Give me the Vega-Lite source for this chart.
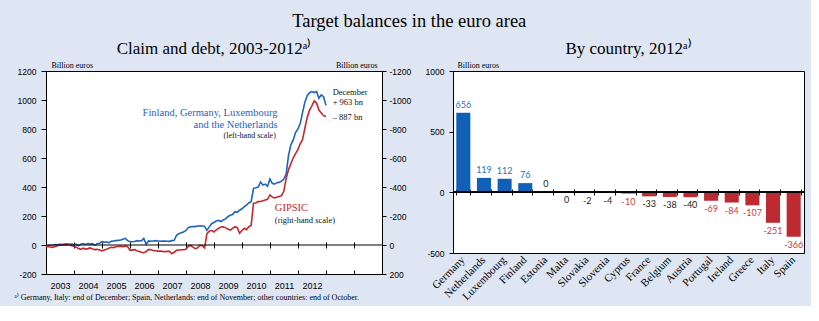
{
  "$schema": "https://vega.github.io/schema/vega-lite/v6.json",
  "background": "#dfe6f3",
  "padding": {"left": 13, "top": 12, "right": 6, "bottom": 3},
  "bounds": "flush",
  "spacing": 71,
  "title": {"text": "Target balances in the euro area", "font": "Liberation Serif", "fontSize": 18.5, "fontWeight": "normal", "color": "#000", "anchor": "middle", "offset": 9},
  "config": {
    "view": {"stroke": "#000", "strokeWidth": 1, "fill": "#ffffff"},
    "axis": {"labelFont": "Liberation Sans", "labelFontSize": 8.5, "labelColor": "#000", "tickColor": "#000", "domainColor": "#000", "titleFont": "Liberation Serif", "titleFontSize": 8, "titleFontWeight": "normal", "titleColor": "#000", "grid": false},
    "title": {"font": "Liberation Serif", "fontWeight": "normal", "color": "#000"}
  },
  "datasets": {
    "core": [
      {"date": "2002-12-31", "value": -5},
      {"date": "2003-01-31", "value": -4}, {"date": "2003-02-28", "value": -2}, {"date": "2003-03-31", "value": 0}, {"date": "2003-04-30", "value": 3}, {"date": "2003-05-31", "value": 2}, {"date": "2003-06-30", "value": 5}, {"date": "2003-07-31", "value": 4}, {"date": "2003-08-31", "value": 6}, {"date": "2003-09-30", "value": 8}, {"date": "2003-10-31", "value": 5}, {"date": "2003-11-30", "value": 6}, {"date": "2003-12-31", "value": 3},
      {"date": "2004-01-31", "value": 5}, {"date": "2004-02-28", "value": -5}, {"date": "2004-03-31", "value": 6}, {"date": "2004-04-30", "value": 10}, {"date": "2004-05-31", "value": 4}, {"date": "2004-06-30", "value": 10}, {"date": "2004-07-31", "value": 6}, {"date": "2004-08-31", "value": 9}, {"date": "2004-09-30", "value": -2}, {"date": "2004-10-31", "value": 10}, {"date": "2004-11-30", "value": 12}, {"date": "2004-12-31", "value": 23},
      {"date": "2005-01-31", "value": 18}, {"date": "2005-02-28", "value": 22}, {"date": "2005-03-31", "value": 15}, {"date": "2005-04-30", "value": 25}, {"date": "2005-05-31", "value": 28}, {"date": "2005-06-30", "value": 30}, {"date": "2005-07-31", "value": 32}, {"date": "2005-08-31", "value": 34}, {"date": "2005-09-30", "value": 40}, {"date": "2005-10-31", "value": 46}, {"date": "2005-11-30", "value": 30}, {"date": "2005-12-31", "value": 23},
      {"date": "2006-01-31", "value": 22}, {"date": "2006-02-28", "value": 24}, {"date": "2006-03-31", "value": 30}, {"date": "2006-04-30", "value": 28}, {"date": "2006-05-31", "value": 30}, {"date": "2006-06-30", "value": 46}, {"date": "2006-07-31", "value": 5}, {"date": "2006-08-31", "value": 28}, {"date": "2006-09-30", "value": 26}, {"date": "2006-10-31", "value": 28}, {"date": "2006-11-30", "value": 30}, {"date": "2006-12-31", "value": 28},
      {"date": "2007-01-31", "value": 26}, {"date": "2007-02-28", "value": 28}, {"date": "2007-03-31", "value": 27}, {"date": "2007-04-30", "value": 26}, {"date": "2007-05-31", "value": 25}, {"date": "2007-06-30", "value": 30}, {"date": "2007-07-31", "value": 32}, {"date": "2007-08-31", "value": 67}, {"date": "2007-09-30", "value": 78}, {"date": "2007-10-31", "value": 85}, {"date": "2007-11-30", "value": 90}, {"date": "2007-12-31", "value": 100},
      {"date": "2008-01-31", "value": 120}, {"date": "2008-02-28", "value": 125}, {"date": "2008-03-31", "value": 128}, {"date": "2008-04-30", "value": 127}, {"date": "2008-05-31", "value": 131}, {"date": "2008-06-30", "value": 133}, {"date": "2008-07-31", "value": 131}, {"date": "2008-08-31", "value": 128}, {"date": "2008-09-30", "value": 101}, {"date": "2008-10-31", "value": 125}, {"date": "2008-11-30", "value": 147}, {"date": "2008-12-31", "value": 155},
      {"date": "2009-01-31", "value": 165}, {"date": "2009-02-28", "value": 170}, {"date": "2009-03-31", "value": 162}, {"date": "2009-04-30", "value": 172}, {"date": "2009-05-31", "value": 180}, {"date": "2009-06-30", "value": 195}, {"date": "2009-07-31", "value": 205}, {"date": "2009-08-31", "value": 210}, {"date": "2009-09-30", "value": 230}, {"date": "2009-10-31", "value": 225}, {"date": "2009-11-30", "value": 240}, {"date": "2009-12-31", "value": 250},
      {"date": "2010-01-31", "value": 264}, {"date": "2010-02-28", "value": 275}, {"date": "2010-03-31", "value": 290}, {"date": "2010-04-30", "value": 299}, {"date": "2010-05-31", "value": 391}, {"date": "2010-06-30", "value": 395}, {"date": "2010-07-31", "value": 400}, {"date": "2010-08-31", "value": 435}, {"date": "2010-09-30", "value": 414}, {"date": "2010-10-31", "value": 420}, {"date": "2010-11-30", "value": 405}, {"date": "2010-12-31", "value": 455},
      {"date": "2011-01-31", "value": 425}, {"date": "2011-02-28", "value": 420}, {"date": "2011-03-31", "value": 430}, {"date": "2011-04-30", "value": 432}, {"date": "2011-05-31", "value": 440}, {"date": "2011-06-30", "value": 455}, {"date": "2011-07-31", "value": 490}, {"date": "2011-08-31", "value": 620}, {"date": "2011-09-30", "value": 690}, {"date": "2011-10-31", "value": 725}, {"date": "2011-11-30", "value": 775}, {"date": "2011-12-31", "value": 800},
      {"date": "2012-01-31", "value": 840}, {"date": "2012-02-28", "value": 909}, {"date": "2012-03-31", "value": 985}, {"date": "2012-04-30", "value": 1030}, {"date": "2012-05-31", "value": 1050}, {"date": "2012-06-30", "value": 1058}, {"date": "2012-07-31", "value": 1051}, {"date": "2012-08-31", "value": 1058}, {"date": "2012-09-30", "value": 1012}, {"date": "2012-10-31", "value": 1035}, {"date": "2012-11-30", "value": 1023}, {"date": "2012-12-31", "value": 963}
    ],
    "gipsic": [
      {"date": "2002-12-31", "value": 10},
      {"date": "2003-01-31", "value": 12}, {"date": "2003-02-28", "value": 14}, {"date": "2003-03-31", "value": 16}, {"date": "2003-04-30", "value": 10}, {"date": "2003-05-31", "value": 5}, {"date": "2003-06-30", "value": 0}, {"date": "2003-07-31", "value": 2}, {"date": "2003-08-31", "value": -2}, {"date": "2003-09-30", "value": 0}, {"date": "2003-10-31", "value": -3}, {"date": "2003-11-30", "value": 5}, {"date": "2003-12-31", "value": 8},
      {"date": "2004-01-31", "value": 15}, {"date": "2004-02-28", "value": 25}, {"date": "2004-03-31", "value": 30}, {"date": "2004-04-30", "value": 22}, {"date": "2004-05-31", "value": 28}, {"date": "2004-06-30", "value": 25}, {"date": "2004-07-31", "value": 20}, {"date": "2004-08-31", "value": 28}, {"date": "2004-09-30", "value": 32}, {"date": "2004-10-31", "value": 30}, {"date": "2004-11-30", "value": 35}, {"date": "2004-12-31", "value": 40},
      {"date": "2005-01-31", "value": 35}, {"date": "2005-02-28", "value": 30}, {"date": "2005-03-31", "value": 22}, {"date": "2005-04-30", "value": 16}, {"date": "2005-05-31", "value": 18}, {"date": "2005-06-30", "value": 12}, {"date": "2005-07-31", "value": 10}, {"date": "2005-08-31", "value": 8}, {"date": "2005-09-30", "value": 12}, {"date": "2005-10-31", "value": 7}, {"date": "2005-11-30", "value": 10}, {"date": "2005-12-31", "value": 35},
      {"date": "2006-01-31", "value": 35}, {"date": "2006-02-28", "value": 32}, {"date": "2006-03-31", "value": 40}, {"date": "2006-04-30", "value": 45}, {"date": "2006-05-31", "value": 50}, {"date": "2006-06-30", "value": 53}, {"date": "2006-07-31", "value": 45}, {"date": "2006-08-31", "value": 30}, {"date": "2006-09-30", "value": 33}, {"date": "2006-10-31", "value": 38}, {"date": "2006-11-30", "value": 40}, {"date": "2006-12-31", "value": 42},
      {"date": "2007-01-31", "value": 42}, {"date": "2007-02-28", "value": 44}, {"date": "2007-03-31", "value": 46}, {"date": "2007-04-30", "value": 44}, {"date": "2007-05-31", "value": 44}, {"date": "2007-06-30", "value": 60}, {"date": "2007-07-31", "value": 50}, {"date": "2007-08-31", "value": 37}, {"date": "2007-09-30", "value": 35}, {"date": "2007-10-31", "value": 33}, {"date": "2007-11-30", "value": 32}, {"date": "2007-12-31", "value": 30},
      {"date": "2008-01-31", "value": 10}, {"date": "2008-02-28", "value": 2}, {"date": "2008-03-31", "value": 15}, {"date": "2008-04-30", "value": 25}, {"date": "2008-05-31", "value": 20}, {"date": "2008-06-30", "value": 2}, {"date": "2008-07-31", "value": 5}, {"date": "2008-08-31", "value": 20}, {"date": "2008-09-30", "value": -78}, {"date": "2008-10-31", "value": -95}, {"date": "2008-11-30", "value": -101}, {"date": "2008-12-31", "value": -90},
      {"date": "2009-01-31", "value": -105}, {"date": "2009-02-28", "value": -115}, {"date": "2009-03-31", "value": -124}, {"date": "2009-04-30", "value": -126}, {"date": "2009-05-31", "value": -118}, {"date": "2009-06-30", "value": -110}, {"date": "2009-07-31", "value": -103}, {"date": "2009-08-31", "value": -115}, {"date": "2009-09-30", "value": -126}, {"date": "2009-10-31", "value": -120}, {"date": "2009-11-30", "value": -81}, {"date": "2009-12-31", "value": -100},
      {"date": "2010-01-31", "value": -115}, {"date": "2010-02-28", "value": -105}, {"date": "2010-03-31", "value": -126}, {"date": "2010-04-30", "value": -135}, {"date": "2010-05-31", "value": -288}, {"date": "2010-06-30", "value": -290}, {"date": "2010-07-31", "value": -299}, {"date": "2010-08-31", "value": -300}, {"date": "2010-09-30", "value": -305}, {"date": "2010-10-31", "value": -311}, {"date": "2010-11-30", "value": -315}, {"date": "2010-12-31", "value": -345},
      {"date": "2011-01-31", "value": -330}, {"date": "2011-02-28", "value": -325}, {"date": "2011-03-31", "value": -330}, {"date": "2011-04-30", "value": -335}, {"date": "2011-05-31", "value": -340}, {"date": "2011-06-30", "value": -370}, {"date": "2011-07-31", "value": -460}, {"date": "2011-08-31", "value": -520}, {"date": "2011-09-30", "value": -560}, {"date": "2011-10-31", "value": -600}, {"date": "2011-11-30", "value": -630}, {"date": "2011-12-31", "value": -660},
      {"date": "2012-01-31", "value": -700}, {"date": "2012-02-28", "value": -724}, {"date": "2012-03-31", "value": -805}, {"date": "2012-04-30", "value": -880}, {"date": "2012-05-31", "value": -930}, {"date": "2012-06-30", "value": -960}, {"date": "2012-07-31", "value": -994}, {"date": "2012-08-31", "value": -978}, {"date": "2012-09-30", "value": -931}, {"date": "2012-10-31", "value": -910}, {"date": "2012-11-30", "value": -892}, {"date": "2012-12-31", "value": -887}
    ],
    "countries": [
      {"country": "Germany", "value": 656, "label": "656", "group": "core"},
      {"country": "Netherlands", "value": 119, "label": "119", "group": "core"},
      {"country": "Luxembourg", "value": 112, "label": "112", "group": "core"},
      {"country": "Finland", "value": 76, "label": "76", "group": "core"},
      {"country": "Estonia", "value": 0.3, "label": "0", "group": "other"},
      {"country": "Malta", "value": -0.4, "label": "0", "group": "other"},
      {"country": "Slovakia", "value": -2, "label": "-2", "group": "other"},
      {"country": "Slovenia", "value": -4, "label": "-4", "group": "other"},
      {"country": "Cyprus", "value": -10, "label": "-10", "group": "GIPSIC"},
      {"country": "France", "value": -33, "label": "-33", "group": "other"},
      {"country": "Belgium", "value": -38, "label": "-38", "group": "other"},
      {"country": "Austria", "value": -40, "label": "-40", "group": "other"},
      {"country": "Portugal", "value": -69, "label": "-69", "group": "GIPSIC"},
      {"country": "Ireland", "value": -84, "label": "-84", "group": "GIPSIC"},
      {"country": "Greece", "value": -107, "label": "-107", "group": "GIPSIC"},
      {"country": "Italy", "value": -251, "label": "-251", "group": "GIPSIC"},
      {"country": "Spain", "value": -366, "label": "-366", "group": "GIPSIC"}
    ]
  },
  "hconcat": [
    {
      "width": 336,
      "height": 203,
      "title": {"text": "Claim and debt, 2003-2012ᵃ⁾", "fontSize": 17, "anchor": "middle", "frame": "group", "offset": 3},
      "layer": [
        {
          "data": {"name": "core"},
          "mark": {"type": "line", "color": "#1f63c2", "strokeWidth": 1.6},
          "encoding": {
            "x": {"field": "date", "type": "temporal",
              "scale": {"type": "utc", "domain": [{"year": 2003, "month": 1, "date": 1, "utc": true}, {"year": 2015, "month": 1, "date": 1, "utc": true}]},
              "axis": {"orient": "bottom", "tickCount": {"interval": "year", "step": 1}, "ticks": false, "domain": false,
                "labelExpr": "utcyear(datum.value) <= 2012 ? '' + utcyear(datum.value) : ''",
                "labelOffset": 14, "labelPadding": 11, "labelBaseline": "middle", "labelFontSize": 9, "labelOverlap": false, "labelFlush": false, "labelBound": false,
                "title": "ᵃ⁾ Germany, Italy: end of December; Spain, Netherlands: end of November; other countries: end of October.",
                "titleX": -32, "titleY": 25, "titleAlign": "left", "titleAnchor": "start", "titleBaseline": "alphabetic", "titleFontSize": 8}},
            "y": {"field": "value", "type": "quantitative",
              "scale": {"domain": [-200, 1200], "nice": false, "zero": false},
              "axis": {"orient": "left", "values": [-200, 0, 200, 400, 600, 800, 1000, 1200], "labelExpr": "'' + datum.value", "tickSize": 5, "labelPadding": 5, "domain": false,
                "title": "Billion euros", "titleAngle": 0, "titleX": 5, "titleY": -4, "titleAlign": "left", "titleBaseline": "alphabetic"}}
          }
        },
        {
          "data": {"name": "gipsic"},
          "mark": {"type": "line", "color": "#c0282e", "strokeWidth": 1.6},
          "encoding": {
            "x": {"field": "date", "type": "temporal",
              "scale": {"type": "utc", "domain": [{"year": 2003, "month": 1, "date": 1, "utc": true}, {"year": 2015, "month": 1, "date": 1, "utc": true}]},
              "axis": {"orient": "bottom", "tickCount": {"interval": "year", "step": 1}, "labels": false, "domain": false, "ticks": true, "tickSize": 4, "offset": -4, "title": null}},
            "y": {"field": "value", "type": "quantitative",
              "scale": {"domain": [-1200, 200], "reverse": true, "nice": false, "zero": false},
              "axis": {"orient": "right", "values": [-1200, -1000, -800, -600, -400, -200, 0, 200], "labelExpr": "'' + datum.value", "tickSize": 4, "labelPadding": 3, "domain": false,
                "title": "Billion euros", "titleAngle": 0, "titleX": -5, "titleY": -4, "titleAlign": "right", "titleBaseline": "alphabetic"}}
          }
        },
        {
          "data": {"values": [{"zero": 0}]},
          "mark": {"type": "rule", "color": "#000", "strokeWidth": 1},
          "encoding": {
            "y": {"field": "zero", "type": "quantitative", "scale": {"domain": [-200, 1200], "nice": false, "zero": false}, "axis": null}
          }
        },
        {
          "data": {"values": [
            {"date": "2011-04-10", "value": 908, "text": "Finland, Germany, Luxembourg"},
            {"date": "2011-04-10", "value": 828, "text": "and the Netherlands"}
          ]},
          "mark": {"type": "text", "align": "right", "baseline": "middle", "font": "Liberation Serif", "fontSize": 10.5, "color": "#1f63c2"},
          "encoding": {
            "x": {"field": "date", "type": "temporal",
              "scale": {"type": "utc", "domain": [{"year": 2003, "month": 1, "date": 1, "utc": true}, {"year": 2015, "month": 1, "date": 1, "utc": true}]},
              "axis": {"orient": "bottom", "tickCount": {"interval": "year", "step": 1}, "labels": false, "domain": false, "ticks": true, "tickSize": 6, "offset": -32, "title": null}},
            "y": {"field": "value", "type": "quantitative", "scale": {"domain": [-200, 1200], "nice": false, "zero": false}, "axis": null},
            "text": {"field": "text"}
          }
        },
        {
          "data": {"values": [
            {"date": "2011-03-18", "value": 752, "text": "(left-hand scale)"}
          ]},
          "mark": {"type": "text", "align": "right", "baseline": "middle", "font": "Liberation Serif", "fontSize": 8, "color": "#111"},
          "encoding": {
            "x": {"field": "date", "type": "temporal", "scale": {"type": "utc", "domain": [{"year": 2003, "month": 1, "date": 1, "utc": true}, {"year": 2015, "month": 1, "date": 1, "utc": true}]}, "axis": null},
            "y": {"field": "value", "type": "quantitative", "scale": {"domain": [-200, 1200], "nice": false, "zero": false}, "axis": null},
            "text": {"field": "text"}
          }
        },
        {
          "data": {"values": [
            {"date": "2011-03-05", "value": 253, "text": "GIPSIC"}
          ]},
          "mark": {"type": "text", "align": "left", "baseline": "middle", "font": "Liberation Serif", "fontSize": 10.5, "color": "#c0282e"},
          "encoding": {
            "x": {"field": "date", "type": "temporal", "scale": {"type": "utc", "domain": [{"year": 2003, "month": 1, "date": 1, "utc": true}, {"year": 2015, "month": 1, "date": 1, "utc": true}]}, "axis": null},
            "y": {"field": "value", "type": "quantitative", "scale": {"domain": [-200, 1200], "nice": false, "zero": false}, "axis": null},
            "text": {"field": "text"}
          }
        },
        {
          "data": {"values": [
            {"date": "2011-03-05", "value": 172, "text": "(right-hand scale)"},
            {"date": "2013-03-28", "value": 1057, "text": "December"},
            {"date": "2013-03-28", "value": 984, "text": "+ 963 bn"},
            {"date": "2013-03-28", "value": 885, "text": "– 887 bn"}
          ]},
          "mark": {"type": "text", "align": "left", "baseline": "middle", "font": "Liberation Serif", "fontSize": 8.5, "color": "#111"},
          "encoding": {
            "x": {"field": "date", "type": "temporal", "scale": {"type": "utc", "domain": [{"year": 2003, "month": 1, "date": 1, "utc": true}, {"year": 2015, "month": 1, "date": 1, "utc": true}]}, "axis": null},
            "y": {"field": "value", "type": "quantitative", "scale": {"domain": [-200, 1200], "nice": false, "zero": false}, "axis": null},
            "text": {"field": "text"}
          }
        }
      ],
      "resolve": {"scale": {"y": "independent"}, "axis": {"x": "independent", "y": "independent"}}
    },
    {
      "width": 351,
      "height": 182,
      "title": {"text": "By country, 2012ᵃ⁾", "fontSize": 17, "anchor": "middle", "frame": "group", "offset": 3},
      "data": {"name": "countries"},
      "layer": [
        {
          "mark": {"type": "bar"},
          "encoding": {
            "x": {"field": "country", "type": "nominal", "sort": null,
              "scale": {"paddingInner": 0.32, "paddingOuter": 0.16},
              "axis": {"orient": "bottom", "labelAngle": -45, "labelAlign": "right", "labelBaseline": "middle", "labelFont": "Liberation Serif", "labelFontSize": 11, "labelPadding": 5, "ticks": false, "domain": false, "title": null}},
            "y": {"field": "value", "type": "quantitative",
              "scale": {"domain": [-500, 1000], "nice": false, "zero": false},
              "axis": {"values": [-500, -250, 0, 250, 500, 750, 1000], "labelExpr": "'' + datum.value", "tickSize": 4, "labelPadding": 5, "domain": false,
                "title": "Billion euros", "titleAngle": 0, "titleX": 4, "titleY": -4, "titleAlign": "left", "titleBaseline": "alphabetic"}},
            "color": {"condition": {"test": "datum.value > 0", "value": "#1060b8"}, "value": "#be2a31"}
          }
        },
        {
          "transform": [{"filter": "datum.value >= 0"}],
          "mark": {"type": "text", "baseline": "bottom", "dy": -3, "font": "Lato", "fontSize": 9},
          "encoding": {
            "x": {"field": "country", "type": "nominal", "sort": null,
              "axis": {"orient": "bottom", "labels": false, "domain": false, "ticks": true, "tickBand": "extent", "tickSize": 6, "offset": -64, "title": null}},
            "y": {"field": "value", "type": "quantitative"},
            "text": {"field": "label"},
            "color": {"condition": [{"test": "datum.group === 'core'", "value": "#2a6fc4"}, {"test": "datum.group === 'GIPSIC'", "value": "#d3363b"}], "value": "#1a1a1a"}
          }
        },
        {
          "transform": [{"filter": "datum.value < 0"}],
          "mark": {"type": "text", "baseline": "top", "dy": 4, "font": "Lato", "fontSize": 9},
          "encoding": {
            "x": {"field": "country", "type": "nominal", "sort": null, "axis": null},
            "y": {"field": "value", "type": "quantitative"},
            "text": {"field": "label"},
            "color": {"condition": [{"test": "datum.group === 'core'", "value": "#2a6fc4"}, {"test": "datum.group === 'GIPSIC'", "value": "#d3363b"}], "value": "#1a1a1a"}
          }
        },
        {
          "mark": {"type": "rule", "color": "#000", "strokeWidth": 1},
          "encoding": {"y": {"datum": 0, "type": "quantitative"}}
        }
      ],
      "resolve": {"axis": {"x": "independent"}}
    }
  ]
}
